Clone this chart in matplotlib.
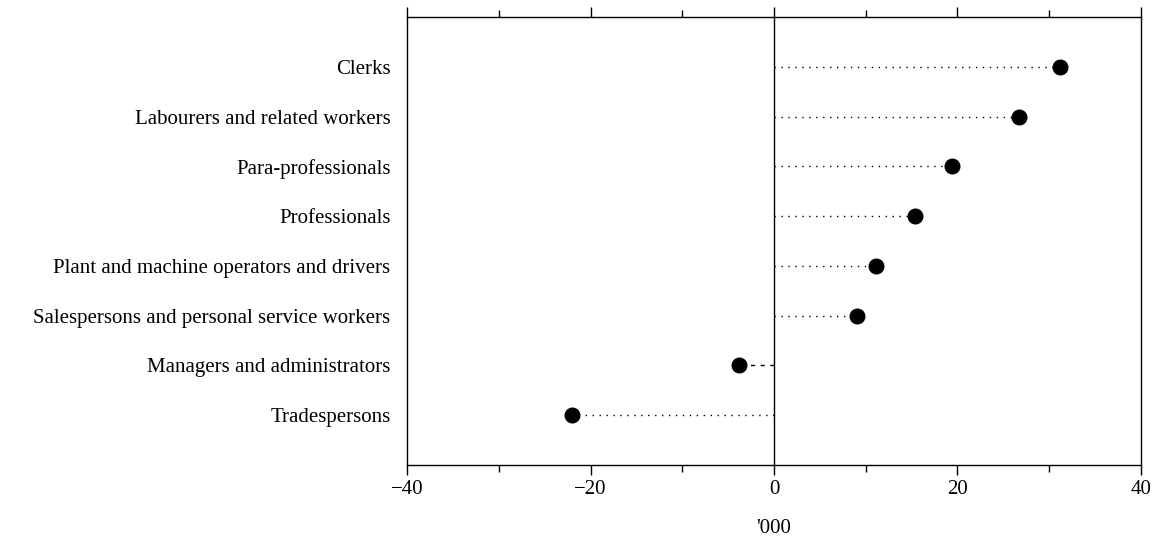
import matplotlib
matplotlib.use("Agg")
import matplotlib.pyplot as plt

occupations = [
    "Clerks",
    "Labourers and related workers",
    "Para-professionals",
    "Professionals",
    "Plant and machine operators and drivers",
    "Salespersons and personal service workers",
    "Managers and administrators",
    "Tradespersons",
]
change = [31.2, 26.7, 19.4, 15.4, 11.1, 9.1, -3.8, -22.0]

plt.rcParams["font.family"] = ["Liberation Serif", "DejaVu Serif"]

fig = plt.figure(figsize=(11.57, 5.41), dpi=100)
ax = fig.add_axes([0.352, 0.1405, 0.634, 0.8281])

ys = list(range(len(occupations)))
for y, v in zip(ys, change):
    ls = (0, (3, 4)) if abs(v) < 5 else (0, (1, 4))
    ax.plot([0, v], [y, y], color="black", linestyle=ls, linewidth=1)
ax.plot(change, ys, "o", color="black", markersize=10.5, zorder=3)
ax.axvline(0, color="black", linewidth=1)

ax.set_xlim(-40, 40)
ax.set_ylim(len(occupations), -1)
ax.set_xticks([-40, -20, 0, 20, 40])
ax.set_xticklabels(["\u221240", "\u221220", "0", "20", "40"])
ax.set_xticks([-30, -10, 10, 30], minor=True)
ax.tick_params(axis="x", which="both", direction="out", top=True, labelsize=15, length=7, width=1)
ax.tick_params(axis="x", which="minor", length=5)
ax.set_yticks(ys)
ax.set_yticklabels(occupations)
ax.tick_params(axis="y", length=0, labelsize=15, pad=12)
ax.set_xlabel("'000", fontsize=15, labelpad=15)
for s in ax.spines.values():
    s.set_linewidth(1)

fig.savefig("out.png", dpi=100)
